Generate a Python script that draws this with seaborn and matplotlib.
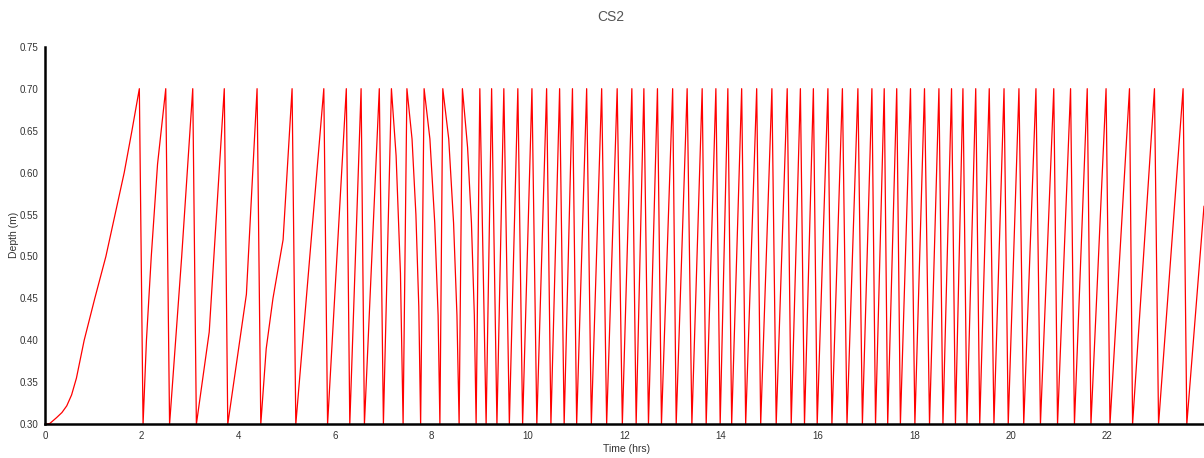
import pandas as pd
import matplotlib
matplotlib.use('Agg')
import matplotlib.pyplot as plt
import seaborn as sns

# pump wet-well level: fills to 0.70 m, pump starts, drains to 0.30 m
pump_on_level = 0.70
pump_off_level = 0.30

# initial fill from empty
startup_hrs = [0.00, 0.10, 0.24, 0.35, 0.45, 0.55, 0.65, 0.81, 1.03, 1.26, 1.45, 1.64, 1.80]
startup_depth = [0.300, 0.301, 0.308, 0.314, 0.322, 0.335, 0.355, 0.400, 0.450, 0.500,
                 0.550, 0.600, 0.650]

# times the level hits the pump-on level
peak_hrs = [1.953, 2.500, 3.059, 3.712, 4.391, 5.116, 5.773, 6.239, 6.545, 6.922,
            7.173, 7.494, 7.850, 8.237, 8.643, 9.004, 9.248, 9.501, 9.791, 10.083,
            10.387, 10.656, 10.922, 11.216, 11.527, 11.848, 12.152, 12.401, 12.682, 12.997,
            13.297, 13.608, 13.892, 14.140, 14.426, 14.737, 15.052, 15.369, 15.642, 15.911,
            16.212, 16.512, 16.833, 17.123, 17.378, 17.637, 17.922, 18.212, 18.511, 18.772,
            19.008, 19.273, 19.553, 19.859, 20.168, 20.520, 20.889, 21.237, 21.582, 21.972,
            22.457, 22.974, 23.567]

# times the level hits the pump-off level
trough_hrs = [2.030, 2.579, 3.134, 3.784, 4.468, 5.193, 5.851, 6.311, 6.614, 7.007,
              7.415, 7.778, 8.177, 8.575, 8.927, 9.134, 9.358, 9.615, 9.890, 10.184,
              10.476, 10.750, 11.009, 11.313, 11.630, 11.955, 12.241, 12.496, 12.765, 13.070,
              13.395, 13.691, 13.981, 14.219, 14.509, 14.820, 15.141, 15.452, 15.727, 15.990,
              16.295, 16.607, 16.926, 17.198, 17.450, 17.713, 18.013, 18.316, 18.594, 18.853,
              19.091, 19.356, 19.650, 19.946, 20.267, 20.613, 20.967, 21.317, 21.659, 22.053,
              22.521, 23.059, 23.644]

# bends inside some fill / drain legs
kink_hrs = [2.10, 2.20, 2.33, 2.83, 3.40, 4.17, 4.58, 4.72, 4.93,
            7.27, 7.36, 7.60, 7.68, 7.74, 7.97, 8.07, 8.14,
            8.36, 8.46, 8.53, 8.75, 8.83, 8.89]
kink_depth = [0.40, 0.50, 0.61, 0.50, 0.41, 0.455, 0.39, 0.45, 0.52,
              0.62, 0.48, 0.64, 0.55, 0.44, 0.64, 0.54, 0.43,
              0.64, 0.54, 0.43, 0.63, 0.54, 0.43]

end_hrs = [24.0]
end_depth = [0.56]

frames = [
    pd.DataFrame({'hrs': startup_hrs, 'depth': startup_depth}),
    pd.DataFrame({'hrs': peak_hrs, 'depth': pump_on_level}),
    pd.DataFrame({'hrs': trough_hrs, 'depth': pump_off_level}),
    pd.DataFrame({'hrs': kink_hrs, 'depth': kink_depth}),
    pd.DataFrame({'hrs': end_hrs, 'depth': end_depth}),
]
df = pd.concat(frames).sort_values('hrs').reset_index(drop=True)

sns.set_style('white')
plt.rcParams['font.family'] = ['Liberation Sans', 'DejaVu Sans']

fig = plt.figure(figsize=(12.04, 4.58), dpi=100)
ax = fig.add_axes([0.0374, 0.0736, 0.9626, 0.8244])

sns.lineplot(data=df, x='hrs', y='depth', color='red', linewidth=0.9,
             estimator=None, sort=False, ax=ax)

ax.set_xlim(0, 24)
ax.set_ylim(0.30, 0.75)
ax.set_xticks(range(0, 24, 2))
ax.set_yticks([0.30, 0.35, 0.40, 0.45, 0.50, 0.55, 0.60, 0.65, 0.70, 0.75])
ax.set_yticklabels([f'{v:.2f}' for v in ax.get_yticks()])
ax.tick_params(axis='both', direction='out', length=3, width=0.8, color='#444444',
               labelsize=7, labelcolor='#333333', pad=2)

for side in ['top', 'right']:
    ax.spines[side].set_visible(False)
for side in ['left', 'bottom']:
    ax.spines[side].set_color('black')
    ax.spines[side].set_linewidth(1.8)

ax.set_xlabel('')
ax.set_ylabel('')
fig.text(0.520, 0.019, 'Time (hrs)', ha='center', va='center', fontsize=7.5, color='#333333')
fig.text(0.012, 0.487, 'Depth (m)', ha='center', va='center', rotation=90,
         fontsize=7.5, color='#333333')
fig.text(0.507, 0.962, 'CS2', ha='center', va='center', fontsize=10, color='#555555')

fig.savefig('out.png', dpi=100)
